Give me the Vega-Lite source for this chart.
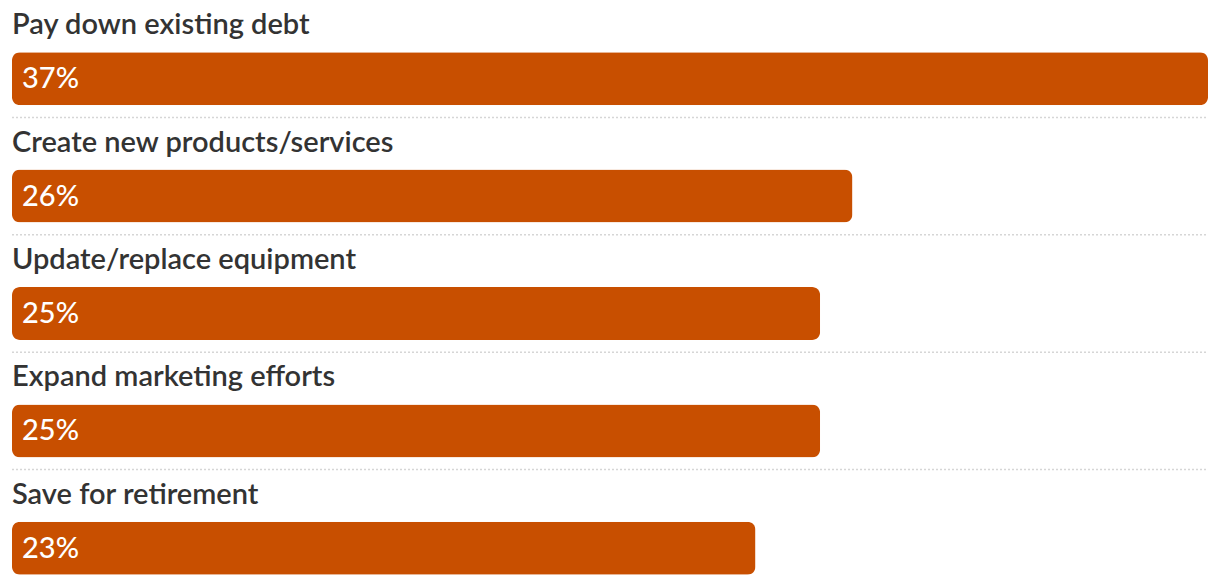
{
  "$schema": "https://vega.github.io/schema/vega-lite/v6.json",
  "width": 1220,
  "height": 586,
  "padding": 0,
  "autosize": {"type": "none"},
  "background": "white",
  "config": {"view": {"stroke": null}},
  "data": {"values": [
    {"item": "Pay down existing debt", "pct": 37, "label": "37%", "sep": true},
    {"item": "Create new products/services", "pct": 26, "label": "26%", "sep": true},
    {"item": "Update/replace equipment", "pct": 25, "label": "25%", "sep": true},
    {"item": "Expand marketing efforts", "pct": 25, "label": "25%", "sep": true},
    {"item": "Save for retirement", "pct": 23, "label": "23%", "sep": false}
  ]},
  "encoding": {
    "y": {"field": "item", "type": "nominal", "sort": null, "axis": null,
      "scale": {"range": [0, 587], "paddingInner": 0, "paddingOuter": 0}}
  },
  "resolve": {"scale": {"x": "shared"}},
  "layer": [
    {
      "transform": [{"filter": "datum.sep"}],
      "mark": {"type": "rule", "color": "#d6d6d6", "strokeWidth": 1.5, "strokeDash": [2, 2]},
      "encoding": {
        "y": {"field": "item", "type": "nominal", "sort": null, "bandPosition": 1},
        "x": {"datum": 0, "type": "quantitative", "scale": {"domain": [0, 37], "range": [12, 1208], "nice": false, "zero": false}, "axis": null},
        "x2": {"datum": 37}
      }
    },
    {
      "mark": {"type": "bar", "color": "#C84F00", "height": 53, "yOffset": 20, "cornerRadius": 8},
      "encoding": {
        "x": {"field": "pct", "type": "quantitative", "scale": {"domain": [0, 37], "range": [12, 1208], "nice": false, "zero": false}, "axis": null}
      }
    },
    {
      "mark": {"type": "text", "align": "left", "baseline": "alphabetic", "dx": 10, "dy": 29.5, "color": "white", "font": "Lato", "fontSize": 29, "fontWeight": 500},
      "encoding": {
        "x": {"datum": 0, "type": "quantitative"},
        "text": {"field": "label"}
      }
    },
    {
      "mark": {"type": "text", "align": "left", "baseline": "alphabetic", "dy": -24.5, "color": "#333333", "font": "Lato", "fontSize": 29, "fontWeight": 600},
      "encoding": {
        "x": {"datum": 0, "type": "quantitative"},
        "text": {"field": "item"}
      }
    }
  ]
}
